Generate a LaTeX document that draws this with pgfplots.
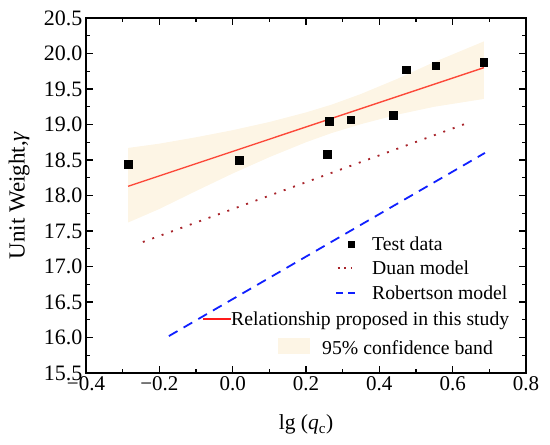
\documentclass[border=0pt]{standalone}
\usepackage{fontspec}
\setmainfont{Liberation Serif}
\usepackage{pgfplots}
\pgfplotsset{compat=1.18}
\definecolor{duanc}{HTML}{A8232A}
\definecolor{robc}{HTML}{1020FF}
\definecolor{bandc}{HTML}{F6D79A}
\definecolor{fitc}{HTML}{FF1A1A}
\begin{document}
\begin{tikzpicture}
\path (0,0) rectangle (550pt,445pt);
\begin{axis}[
  at={(86pt,72pt)}, anchor=south west,
  scale only axis, width=440pt, height=355pt,
  xmin=-0.4, xmax=0.8, ymin=15.5, ymax=20.5,
  xtick={-0.4,-0.2,0,0.2,0.4,0.6,0.8},
  xticklabels={−0.4,−0.2,0.0,0.2,0.4,0.6,0.8},
  ytick={15.5,16,16.5,17,17.5,18,18.5,19,19.5,20,20.5},
  yticklabels={15.5,16.0,16.5,17.0,17.5,18.0,18.5,19.0,19.5,20.0,20.5},
  minor x tick num=1, minor y tick num=1,
  tick align=inside,
  major tick length=7pt, minor tick length=4pt,
  axis line style={line width=1.2pt},
  every tick/.style={line width=1.1pt, black},
  xticklabel style={font=\fontsize{21}{25}\selectfont},
  yticklabel style={font=\fontsize{22}{26}\selectfont},
  xlabel={lg (\textit{q}\textsubscript{c})},
  ylabel={Unit Weight,\textit{γ}},
  xlabel style={font=\fontsize{21.5}{25}\selectfont, at={(axis description cs:0.5,-0.146)}, anchor=center},
  ylabel style={font=\fontsize{23}{27}\selectfont, at={(axis description cs:-0.152,0.5)}, anchor=center},
  legend cell align=left,
  legend style={at={(0.266,0.397)}, anchor=north west, draw=none, fill=none,
    inner sep=0pt, row sep=0pt,
    nodes={inner sep=0pt, font=\fontsize{19.7}{24}\selectfont},
    /tikz/every even column/.append style={column sep=2pt}},
]
% Test data
\addplot[only marks, mark=square*, mark size=3.8pt, black,
  legend image code/.code={\path[draw=none,fill=none] (0pt,-12pt) rectangle (28pt,12pt);
    \fill[overlay,black] (144.7pt,-3.4pt) rectangle (151.3pt,3.4pt);}]
  coordinates {
  (-0.285,18.44) (0.017,18.50) (0.258,18.58) (0.263,19.05) (0.322,19.07)
  (0.437,19.13) (0.473,19.77) (0.554,19.83) (0.685,19.875)
};
\addlegendentry{\hspace*{141pt}Test data}
% Duan model
\addplot[duanc, line width=1.8pt, dash pattern=on 2pt off 8pt,
  legend image code/.code={\path[draw=none,fill=none] (0pt,-12pt) rectangle (28pt,12pt);
    \draw[overlay,duanc,line width=1.8pt,dash pattern=on 2pt off 4.5pt] (134.5pt,0pt) -- (149pt,0pt);}]
  coordinates {(-0.245,17.345) (0.648,19.035)};
\addlegendentry{\hspace*{141pt}Duan model}
% Robertson model
\addplot[robc, line width=1.8pt, dash pattern=on 10pt off 7pt,
  legend image code/.code={\path[draw=none,fill=none] (0pt,-13pt) rectangle (28pt,13pt);
    \draw[overlay,robc,line width=1.8pt,dash pattern=on 7pt off 5pt] (133pt,0pt) -- (152pt,0pt);}]
  coordinates {(-0.174,16.02) (0.688,18.60)};
\addlegendentry{\hspace*{141pt}Robertson model}
% Fit
\addplot[fitc, line width=1.4pt,
  legend image code/.code={\path[draw=none,fill=none] (0pt,-13pt) rectangle (28pt,13pt);
    \draw[overlay,fitc,solid,line width=2pt,opacity=1] (0pt,0pt) -- (28pt,0pt);}]
  coordinates {(-0.285,18.13) (0.685,19.80)};
\addlegendentry{Relationship proposed in this study}
% 95% confidence band
\addplot[draw=none, fill=bandc, fill opacity=0.26,
  legend image code/.code={\path[draw=none,fill=none] (0pt,-16pt) rectangle (28pt,16pt);
    \fill[overlay,bandc,fill opacity=0.26] (75pt,-6pt) rectangle (107pt,10pt);}]
  coordinates {
  (-0.285,18.67) (-0.2,18.73) (-0.1,18.82) (0.0,18.92) (0.1,19.035) (0.2,19.17)
  (0.27,19.28) (0.35,19.43) (0.45,19.645) (0.55,19.88) (0.685,20.17)
  (0.685,19.36) (0.55,19.25) (0.45,19.14) (0.35,19.005) (0.27,18.88)
  (0.2,18.75) (0.1,18.54) (0.0,18.31) (-0.1,18.063) (-0.2,17.81) (-0.285,17.62)
  } -- cycle;
\addlegendentry{\hspace*{91pt}95\% confidence band}
\end{axis}
\end{tikzpicture}
\end{document}
